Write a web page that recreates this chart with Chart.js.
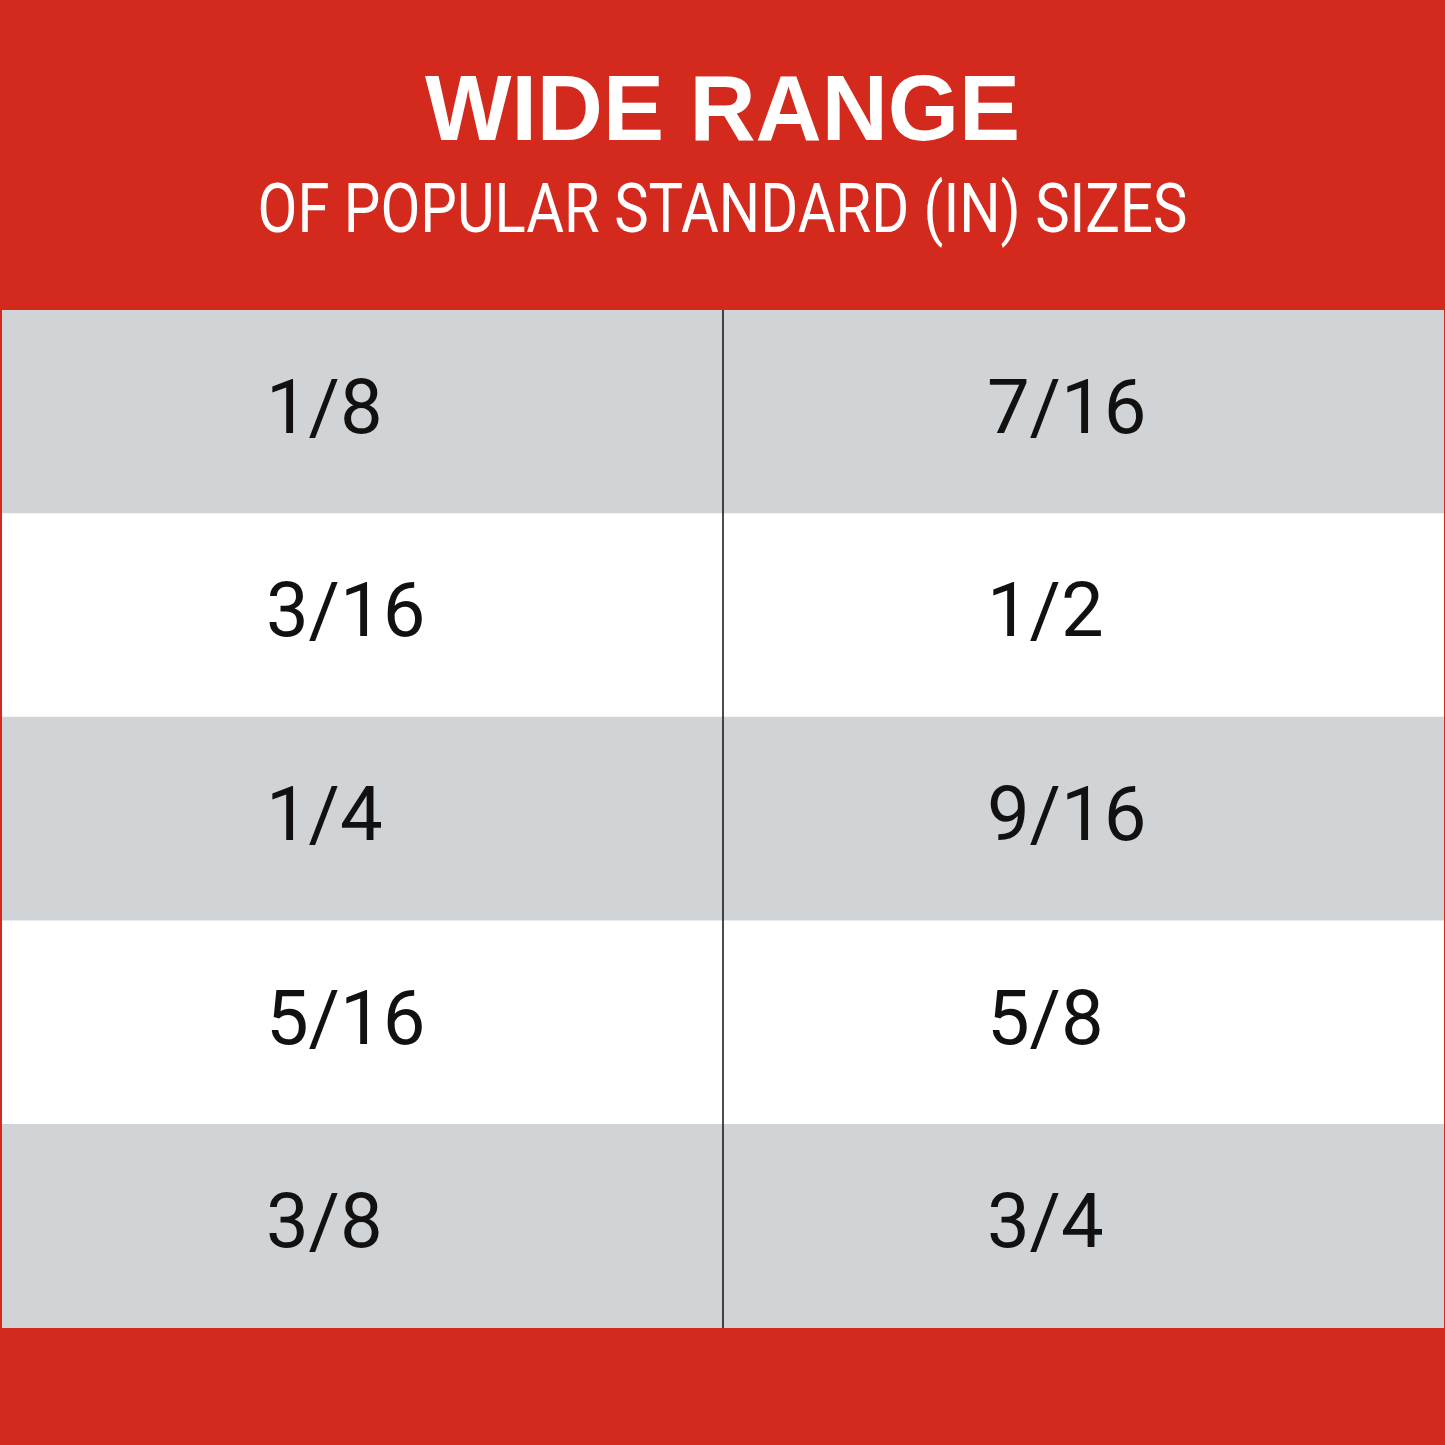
<!DOCTYPE html>
<html><head><meta charset="utf-8">
<script src="https://cdn.jsdelivr.net/npm/chart.js@4/dist/chart.umd.min.js"></script>
<style>html,body{margin:0;padding:0;background:#fff}#w{width:1445px;height:1445px}</style>
</head><body><div id="w"><canvas id="c" width="1445" height="1445"></canvas></div>
<script>
const titleText = "WIDE RANGE";
const subtitleText = "OF POPULAR STANDARD (IN) SIZES";
const rows = ["r1","r2","r3","r4","r5"];
const leftSizes = ["1/8","3/16","1/4","5/16","3/8"];
const rightSizes = ["7/16","1/2","9/16","5/8","3/4"];
const rowFill = ["#d1d4d6","#ffffff","#d1d4d6","#ffffff","#d1d4d6"];
const RED = "#d42a1e";

const deco = {
  id:'deco',
  beforeDraw(chart){
    const c=chart.ctx;
    c.save(); c.fillStyle=RED; c.fillRect(0,0,chart.width,chart.height); c.restore();
  },
  afterDatasetsDraw(chart){
    const c=chart.ctx, x=chart.scales.x, y=chart.scales.y, a=chart.chartArea;
    c.save();
    c.strokeStyle="#111"; c.lineWidth=1.5;
    const xm=x.getPixelForValue(1);
    c.beginPath(); c.moveTo(xm,a.top); c.lineTo(xm,a.bottom); c.stroke();
    c.fillStyle="#111"; c.textBaseline="middle"; c.textAlign="left";
    c.font="400 76px Roboto";
    rows.forEach((r,i)=>{
      const py=y.getPixelForValue(i)+2;
      c.fillText(leftSizes[i], x.getPixelForValue(0.366), py);
      c.fillText(rightSizes[i], x.getPixelForValue(1.366), py);
    });
    c.fillStyle="#fff"; c.textAlign="center"; c.textBaseline="alphabetic";
    c.font="900 92px 'Liberation Sans'";
    c.fillText(titleText, chart.width/2, 140, 595);
    c.font="400 68px 'Liberation Sans Narrow', Roboto";
    c.fillText(subtitleText, chart.width/2, 232, 930);
    c.restore();
  }
};

new Chart(document.getElementById('c'),{
  type:'bar',
  data:{labels:rows,datasets:[{data:rows.map(()=>[0,2]),backgroundColor:rowFill,barPercentage:1,categoryPercentage:1,borderWidth:0}]},
  options:{
    indexAxis:'y',responsive:false,animation:false,devicePixelRatio:1,
    layout:{padding:{top:310,bottom:117,left:2,right:1}},
    plugins:{legend:{display:false},tooltip:{enabled:false}},
    scales:{x:{type:'linear',min:0,max:2,display:false},y:{display:false}}
  },
  plugins:[deco]
});
</script></body></html>
